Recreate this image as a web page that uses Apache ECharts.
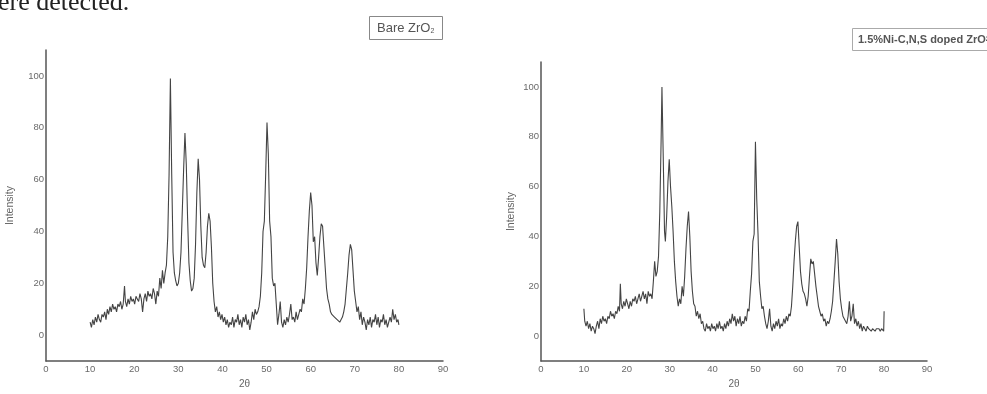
<!DOCTYPE html>
<html>
<head>
<meta charset="utf-8">
<script src="https://cdn.jsdelivr.net/npm/echarts@6/dist/echarts.min.js"></script>
<style>
  html, body { margin: 0; padding: 0; background: #fff; }
  #chart { width: 987px; height: 394px; }
</style>
</head>
<body>
<div id="chart"></div>
<script>
// 2θ / intensity pairs
const bareX = [10.0,10.3,10.6,10.9,11.2,11.5,11.8,12.1,12.4,12.7,13.0,13.3,13.6,13.9,14.2,14.5,14.8,15.1,15.4,15.7,16.0,16.3,16.6,16.9,17.2,17.5,17.8,18.0,18.3,18.6,18.9,19.2,19.5,19.8,20.1,20.4,20.7,21.0,21.3,21.6,21.9,22.2,22.5,22.8,23.1,23.4,23.7,24.0,24.3,24.6,24.9,25.2,25.5,25.8,26.1,26.4,26.7,27.0,27.3,27.6,27.9,28.2,28.5,28.8,29.1,29.4,29.7,30.0,30.3,30.6,30.9,31.2,31.5,31.8,32.1,32.4,32.7,33.0,33.3,33.6,33.9,34.2,34.5,34.8,35.1,35.4,35.7,36.0,36.3,36.6,36.9,37.2,37.5,37.8,38.1,38.4,38.7,39.0,39.3,39.6,39.9,40.2,40.5,40.8,41.1,41.4,41.7,42.0,42.3,42.6,42.9,43.2,43.5,43.8,44.1,44.4,44.7,45.0,45.3,45.6,45.9,46.2,46.5,46.8,47.1,47.4,47.7,48.0,48.3,48.6,48.9,49.2,49.5,49.8,50.1,50.4,50.7,51.0,51.3,51.6,51.9,52.2,52.5,52.8,53.1,53.4,53.7,54.0,54.3,54.6,54.9,55.2,55.5,55.8,56.1,56.4,56.7,57.0,57.3,57.6,57.9,58.2,58.5,58.8,59.1,59.4,59.7,60.0,60.3,60.6,60.9,61.2,61.5,61.8,62.1,62.4,62.7,63.0,63.3,63.6,63.9,64.2,64.5,64.8,65.1,65.4,65.7,66.0,66.3,66.6,66.9,67.2,67.5,67.8,68.1,68.4,68.7,69.0,69.3,69.6,69.9,70.2,70.5,70.8,71.1,71.4,71.7,72.0,72.3,72.6,72.9,73.2,73.5,73.8,74.1,74.4,74.7,75.0,75.3,75.6,75.9,76.2,76.5,76.8,77.1,77.4,77.7,78.0,78.3,78.6,78.9,79.2,79.5,79.8,80.0];
const bareY = [5,3,6,4,7,5,8,6,5,8,7,9,6,10,8,11,9,12,10,11,9,12,11,13,10,12,19,13,11,14,12,15,13,14,12,15,14,13,16,14,9,14,16,13,17,15,16,14,18,16,12,17,15,22,18,25,20,24,27,38,62,99,62,32,24,21,19,20,24,32,48,64,78,66,45,28,21,17,18,22,35,55,68,60,42,30,27,26,32,42,47,44,34,20,13,9,11,7,9,6,8,5,7,4,6,3,5,4,7,3,6,5,8,4,6,3,7,5,8,4,6,2,5,9,6,10,8,9,11,15,24,40,44,62,82,70,44,38,22,19,20,12,4,8,13,5,3,6,4,7,5,8,12,6,7,5,9,6,8,10,9,14,12,18,26,38,48,55,50,36,38,28,23,30,38,43,42,34,26,18,14,12,9,8,8,7,7,6,6,5,6,7,9,12,18,24,31,35,33,25,17,13,9,11,6,9,4,7,5,2,6,4,7,3,6,5,8,4,7,3,6,5,8,4,6,3,5,7,5,10,6,8,5,6,4];

const dopedX = [10.0,10.2,10.5,10.8,11.1,11.4,11.7,12.0,12.3,12.6,12.9,13.2,13.5,13.8,14.1,14.4,14.7,15.0,15.3,15.6,15.9,16.2,16.5,16.8,17.1,17.4,17.7,18.0,18.3,18.5,18.7,19.0,19.3,19.6,19.9,20.2,20.5,20.8,21.1,21.4,21.7,22.0,22.3,22.6,22.9,23.2,23.5,23.8,24.1,24.4,24.7,25.0,25.3,25.6,25.9,26.2,26.5,26.8,27.1,27.4,27.7,28.0,28.2,28.5,28.8,29.0,29.3,29.6,29.9,30.2,30.5,30.8,31.1,31.4,31.7,32.0,32.3,32.6,32.9,33.2,33.5,33.8,34.1,34.4,34.7,35.0,35.3,35.6,35.9,36.2,36.5,36.8,37.1,37.4,37.7,38.0,38.3,38.6,38.9,39.2,39.5,39.8,40.1,40.4,40.7,41.0,41.3,41.6,41.9,42.2,42.5,42.8,43.1,43.4,43.7,44.0,44.3,44.6,44.9,45.2,45.5,45.8,46.1,46.4,46.7,47.0,47.3,47.6,47.9,48.2,48.5,48.8,49.1,49.4,49.7,50.0,50.3,50.6,50.9,51.2,51.5,51.8,52.1,52.4,52.7,53.0,53.3,53.6,53.9,54.2,54.5,54.8,55.1,55.4,55.7,56.0,56.3,56.6,56.9,57.2,57.5,57.8,58.1,58.4,58.7,59.0,59.3,59.6,59.9,60.2,60.5,60.8,61.1,61.4,61.7,62.0,62.3,62.6,62.9,63.2,63.5,63.8,64.1,64.4,64.7,65.0,65.3,65.6,65.9,66.2,66.5,66.8,67.1,67.4,67.7,68.0,68.3,68.6,68.9,69.2,69.5,69.8,70.1,70.4,70.7,71.0,71.3,71.6,71.9,72.2,72.5,72.8,73.1,73.4,73.7,74.0,74.3,74.6,74.9,75.2,75.5,75.8,76.1,76.4,76.7,77.0,77.3,77.6,77.9,78.2,78.5,78.8,79.1,79.4,79.7,79.9,80.0];
const dopedY = [11,6,4,6,3,5,2,4,3,1,4,6,3,7,5,8,6,7,5,8,7,10,8,9,7,10,9,12,10,21,13,11,14,12,15,13,11,14,12,15,14,16,13,15,17,14,16,18,15,17,13,18,16,17,15,22,30,24,26,32,50,78,100,72,42,38,48,62,71,60,52,42,30,22,16,12,15,13,20,16,24,35,44,50,40,26,18,13,12,8,10,7,9,5,6,3,2,5,3,4,2,5,3,4,2,5,3,6,3,4,2,5,3,6,4,7,5,9,6,8,4,7,5,8,4,6,5,8,6,11,10,18,25,38,41,78,55,41,22,16,11,12,8,5,3,6,11,4,2,5,3,6,4,7,3,5,4,7,5,8,6,9,8,12,20,30,38,44,46,36,26,21,18,17,15,12,16,24,31,29,30,25,20,16,12,10,8,9,6,7,4,6,5,7,10,14,22,30,39,33,22,15,11,8,7,6,5,8,14,6,8,13,5,7,4,6,3,5,2,4,3,2,4,3,3,2,3,3,2,3,3,3,2,3,3,2,10];

const xTicks = [0, 10, 20, 30, 40, 50, 60, 70, 80, 90];
const yTicks = [0, 20, 40, 60, 80, 100];

const AXIS = '#555';
const LABEL = '#6a6a6a';
const FONT = 'Arial, "Liberation Sans", sans-serif';

function pairs(xs, ys) {
  return xs.map((x, i) => [x, ys[i]]);
}

function xAxisFor(idx) {
  return {
    type: 'value', gridIndex: idx, min: 0, max: 90, interval: 10,
    name: '2θ', nameLocation: 'middle', nameGap: 17,
    nameTextStyle: { color: '#666', fontSize: 10, fontFamily: FONT },
    axisLine: { onZero: false, lineStyle: { color: AXIS, width: 1.5 } },
    axisTick: { show: false },
    axisLabel: { color: LABEL, fontSize: 9.5, margin: 3, fontFamily: FONT,
      formatter: v => xTicks.includes(v) ? String(v) : '' },
    splitLine: { show: false }
  };
}

function yAxisFor(idx, gap) {
  return {
    type: 'value', gridIndex: idx, min: -10, max: 110, interval: 10,
    name: 'Intensity', nameLocation: 'middle', nameGap: gap,
    nameTextStyle: { color: '#666', fontSize: 10.5, fontFamily: FONT },
    axisLine: { show: true, onZero: false, lineStyle: { color: AXIS, width: 1.5 } },
    axisTick: { show: false },
    axisLabel: { color: LABEL, fontSize: 9.5, margin: 2, fontFamily: FONT,
      formatter: v => yTicks.includes(v) ? String(v) : '' },
    splitLine: { show: false }
  };
}

const chart = echarts.init(document.getElementById('chart'));
chart.setOption({
  backgroundColor: '#fff',
  animation: false,
  title: [
    {
      text: 'Bare ZrO{sub|2}', left: 369, top: 16,
      padding: [5, 8, 5, 8], borderColor: '#888', borderWidth: 1,
      textStyle: { color: '#555', fontSize: 13, fontWeight: 'normal', fontFamily: FONT,
        rich: { sub: { fontSize: 7, color: '#555', verticalAlign: 'bottom', padding: [7, 0, 0, 0] } } }
    },
    {
      text: '1.5%Ni-C,N,S doped ZrO{sub|2}', left: 852, top: 28,
      padding: [6, 6, 6, 6], borderColor: '#aaa', borderWidth: 1,
      textStyle: { color: '#555', fontSize: 11, fontWeight: 'bold', fontFamily: FONT,
        rich: { sub: { fontSize: 7, color: '#555', fontWeight: 'bold' } } }
    }
  ],
  graphic: [
    { type: 'text', left: -2, top: -10,
      style: { text: 'ere detected.', font: '26px "Liberation Serif", serif', fill: '#222' } }
  ],
  grid: [
    { left: 46, top: 50, width: 397, height: 323 },
    { left: 541, top: 62, width: 386, height: 314 }
  ],
  xAxis: [xAxisFor(0), xAxisFor(1)],
  yAxis: [yAxisFor(0, 30), yAxisFor(1, 24)],
  series: [
    { type: 'line', xAxisIndex: 0, yAxisIndex: 0, data: pairs(bareX, bareY),
      showSymbol: false, lineStyle: { color: '#444', width: 1.1 } },
    { type: 'line', xAxisIndex: 1, yAxisIndex: 1, data: pairs(dopedX, dopedY),
      showSymbol: false, lineStyle: { color: '#444', width: 1.1 } }
  ]
});
</script>
</body>
</html>
